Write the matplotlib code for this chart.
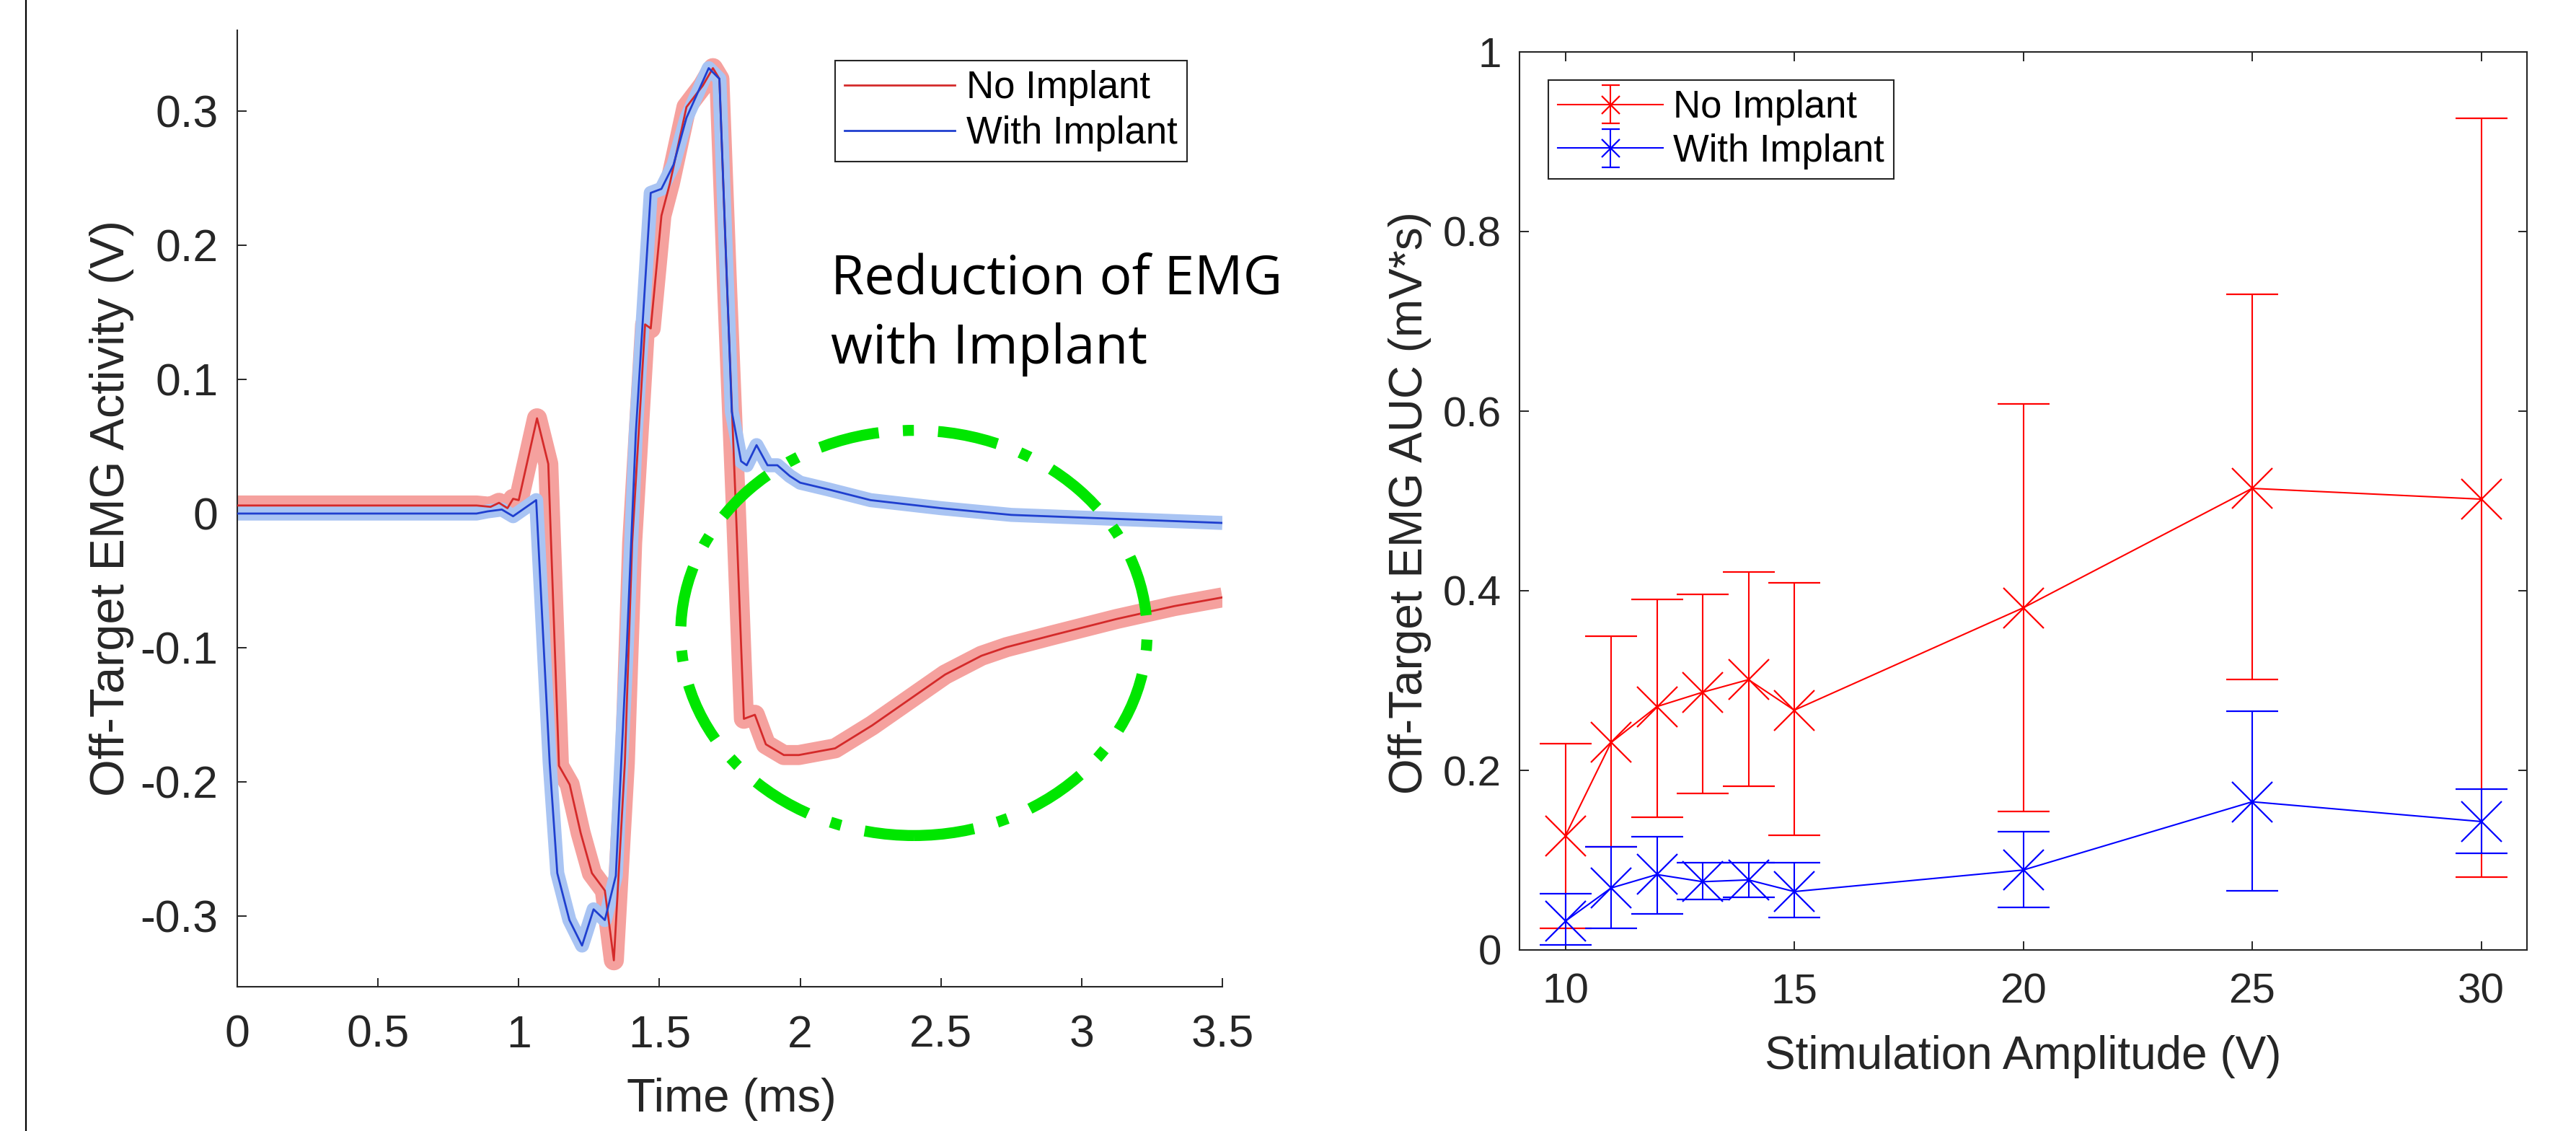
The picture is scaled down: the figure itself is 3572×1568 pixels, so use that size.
import matplotlib
matplotlib.use("Agg")
import matplotlib.pyplot as plt
import numpy as np
from matplotlib.patches import Ellipse
from matplotlib.lines import Line2D
from matplotlib.legend_handler import HandlerErrorbar
from matplotlib.container import ErrorbarContainer

# ---------------- Left panel data (EMG traces) ----------------
time_no_implant = [0.0, 0.85, 0.9, 0.93, 0.96, 0.98, 1.0, 1.065, 1.105, 1.143, 1.181,
                   1.22, 1.26, 1.306, 1.338, 1.377, 1.403, 1.449, 1.469, 1.507, 1.537,
                   1.596, 1.654, 1.69, 1.713, 1.74, 1.77, 1.80, 1.839, 1.878, 1.942,
                   1.995, 2.124, 2.255, 2.385, 2.515, 2.644, 2.733, 2.9, 3.124, 3.329, 3.5]
emg_no_implant = [0.006, 0.006, 0.005, 0.008, 0.004, 0.011, 0.010, 0.071, 0.037, -0.188, -0.202,
                  -0.238, -0.268, -0.281, -0.333, -0.186, -0.022, 0.141, 0.138, 0.222, 0.246,
                  0.303, 0.319, 0.332, 0.324, 0.17, 0.012, -0.153, -0.150, -0.172, -0.180,
                  -0.180, -0.175, -0.158, -0.139, -0.120, -0.106, -0.0996, -0.0905, -0.0786, -0.069, -0.0625]

time_with_implant = [0.0, 0.85, 0.889, 0.94, 0.98, 1.062, 1.11, 1.137, 1.18, 1.225, 1.266,
                     1.306, 1.345, 1.383, 1.416, 1.469, 1.507, 1.55, 1.596, 1.675, 1.713,
                     1.757, 1.79, 1.81, 1.845, 1.884, 1.919, 1.963, 2.0, 2.1, 2.25, 2.5,
                     2.75, 3.0, 3.25, 3.5]
emg_with_implant = [0.0, 0.0, 0.0016, 0.003, -0.002, 0.010, -0.186, -0.268, -0.303, -0.322, -0.295,
                    -0.303, -0.270, -0.104, 0.060, 0.239, 0.242, 0.26, 0.295, 0.332, 0.324,
                    0.076, 0.039, 0.036, 0.051, 0.036, 0.036, 0.028, 0.023, 0.018, 0.010, 0.004,
                    -0.001, -0.003, -0.005, -0.007]

left_xticks = [0, 0.5, 1, 1.5, 2, 2.5, 3, 3.5]
left_xticklabels = ["0", "0.5", "1", "1.5", "2", "2.5", "3", "3.5"]
left_yticks = [-0.3, -0.2, -0.1, 0, 0.1, 0.2, 0.3]
left_yticklabels = ["-0.3", "-0.2", "-0.1", "0", "0.1", "0.2", "0.3"]

# ---------------- Right panel data (AUC vs amplitude) ----------------
amplitudes = [10, 11, 12, 13, 14, 15, 20, 25, 30]
auc_no_implant = [0.127, 0.231, 0.271, 0.287, 0.301, 0.267, 0.381, 0.514, 0.502]
auc_no_implant_low = [0.024, 0.115, 0.148, 0.174, 0.182, 0.128, 0.154, 0.301, 0.081]
auc_no_implant_high = [0.230, 0.349, 0.390, 0.396, 0.421, 0.409, 0.608, 0.730, 0.926]
auc_with_implant = [0.032, 0.069, 0.084, 0.076, 0.078, 0.065, 0.089, 0.165, 0.143]
auc_with_implant_low = [0.006, 0.024, 0.040, 0.056, 0.059, 0.036, 0.047, 0.066, 0.108]
auc_with_implant_high = [0.063, 0.115, 0.126, 0.097, 0.097, 0.097, 0.132, 0.266, 0.179]

right_xticks = [10, 15, 20, 25, 30]
right_xticklabels = ["10", "15", "20", "25", "30"]
right_yticks = [0, 0.2, 0.4, 0.6, 0.8, 1.0]
right_yticklabels = ["0", "0.2", "0.4", "0.6", "0.8", "1"]

# ---------------- Styling ----------------
plt.rcParams['font.family'] = ['Liberation Sans', 'DejaVu Sans']
plt.rcParams['axes.unicode_minus'] = False
AX_COLOR = '#262626'

W, H = 3572, 1568
fig = plt.figure(figsize=(W / 100, H / 100), dpi=100)

# figure border line on the left
fig.add_artist(Line2D([36 / W, 36 / W], [0, 1], transform=fig.transFigure,
                      color='black', lw=1.6))

# ---------------- Left axes ----------------
ax1 = fig.add_axes([329 / W, 1 - 1368 / H, 1366 / W, 1326 / H])
ax1.plot(time_no_implant, emg_no_implant, color='#F5A19E', lw=20,
         solid_joinstyle='round', solid_capstyle='butt', zorder=1)
ax1.plot(time_with_implant, emg_with_implant, color='#A9C4F3', lw=14,
         solid_joinstyle='round', solid_capstyle='butt', zorder=2)
l_red, = ax1.plot(time_no_implant, emg_no_implant, color='#D42A2A', lw=2.0,
                  zorder=3, label='No Implant')
l_blue, = ax1.plot(time_with_implant, emg_with_implant, color='#1F3FCF', lw=2.0,
                   zorder=4, label='With Implant')

ax1.set_xlim(0, 3.5)
ax1.set_ylim(-0.3527, 0.3602)
ax1.set_xticks(left_xticks)
ax1.set_xticklabels(left_xticklabels)
ax1.set_yticks(left_yticks)
ax1.set_yticklabels(left_yticklabels)
for s in ['top', 'right']:
    ax1.spines[s].set_visible(False)
for s in ['left', 'bottom']:
    ax1.spines[s].set_color(AX_COLOR)
    ax1.spines[s].set_linewidth(1.5)
ax1.tick_params(direction='in', length=9, width=1.4, colors=AX_COLOR,
                labelsize=45, labelcolor=AX_COLOR)
ax1.tick_params(axis='y', pad=19)
ax1.tick_params(axis='x', pad=27)
ax1.set_xlabel('Time (ms)', fontsize=47, color=AX_COLOR)
ax1.set_ylabel('Off-Target EMG Activity (V)', fontsize=48, color=AX_COLOR)
ax1.xaxis.set_label_coords(0.502, -0.095)
ax1.yaxis.set_label_coords(-0.105, 0.5)

# green dash-dot ellipse
ell = Ellipse((2.404, -0.089), 1.657, 0.302, fill=False, edgecolor='#00E600',
              lw=11, linestyle=(0, (5.5, 2.2, 1.0, 2.2)), clip_on=False, zorder=6)
ax1.add_patch(ell)

leg1 = ax1.legend(handles=[l_red, l_blue], loc='upper left',
                  bbox_to_anchor=(1158 / W, 1 - 84 / H), bbox_transform=fig.transFigure,
                  borderaxespad=0, fontsize=38, handlelength=2.9, handletextpad=0.3,
                  borderpad=0.25, labelspacing=0.25, fancybox=False, framealpha=1)
leg1.get_frame().set_edgecolor(AX_COLOR)
leg1.get_frame().set_linewidth(1.5)

fig.text(1152 / W, 1 - 408 / H, 'Reduction of EMG', family='Open Sans',
         fontsize=54, color='black', va='baseline', ha='left')
fig.text(1152 / W, 1 - 504 / H, 'with Implant', family='Open Sans',
         fontsize=54, color='black', va='baseline', ha='left')

# ---------------- Right axes ----------------
ax2 = fig.add_axes([2107 / W, 1 - 1317 / H, 1397 / W, 1245 / H])
yerr_no = [np.subtract(auc_no_implant, auc_no_implant_low),
           np.subtract(auc_no_implant_high, auc_no_implant)]
yerr_with = [np.subtract(auc_with_implant, auc_with_implant_low),
             np.subtract(auc_with_implant_high, auc_with_implant)]
eb1 = ax2.errorbar(amplitudes, auc_no_implant, yerr=yerr_no, color='#FF0000',
                   marker='x', markersize=40, mew=1.6, lw=1.5, elinewidth=1.5,
                   capsize=26, capthick=1.5, label='No Implant')
eb2 = ax2.errorbar(amplitudes, auc_with_implant, yerr=yerr_with, color='#0000FF',
                   marker='x', markersize=40, mew=1.6, lw=1.5, elinewidth=1.5,
                   capsize=26, capthick=1.5, label='With Implant')
ax2.set_xlim(9, 31)
ax2.set_ylim(0, 1)
ax2.set_xticks(right_xticks)
ax2.set_xticklabels(right_xticklabels)
ax2.set_yticks(right_yticks)
ax2.set_yticklabels(right_yticklabels)
for s in ax2.spines.values():
    s.set_color(AX_COLOR)
    s.set_linewidth(1.5)
ax2.tick_params(direction='in', length=9, width=1.4, colors=AX_COLOR,
                labelsize=42, labelcolor=AX_COLOR, top=True, right=True)
ax2.tick_params(axis='y', pad=18)
ax2.tick_params(axis='x', pad=23)
ax2.set_xlabel('Stimulation Amplitude (V)', fontsize=46, color=AX_COLOR)
ax2.set_ylabel('Off-Target EMG AUC (mV*s)', fontsize=46, color=AX_COLOR)
ax2.xaxis.set_label_coords(0.5, -0.095)
ax2.yaxis.set_label_coords(-0.0873, 0.498)


def _legend_update(handle, orig):
    handle.update_from(orig)
    if isinstance(handle, Line2D):
        handle.set_markersize(18)


leg2 = ax2.legend(handles=[eb1, eb2], loc='upper left',
                  bbox_to_anchor=(2147 / W, 1 - 111 / H), bbox_transform=fig.transFigure,
                  borderaxespad=0, fontsize=38, handlelength=2.77, handletextpad=0.25,
                  borderpad=0.25, labelspacing=0.2, fancybox=False, framealpha=1,
                  handler_map={ErrorbarContainer: HandlerErrorbar(numpoints=1, xerr_size=0.5,
                                                                   update_func=_legend_update)})
leg2.get_frame().set_edgecolor(AX_COLOR)
leg2.get_frame().set_linewidth(1.5)

fig.savefig('out.png', dpi=100, facecolor='white')
